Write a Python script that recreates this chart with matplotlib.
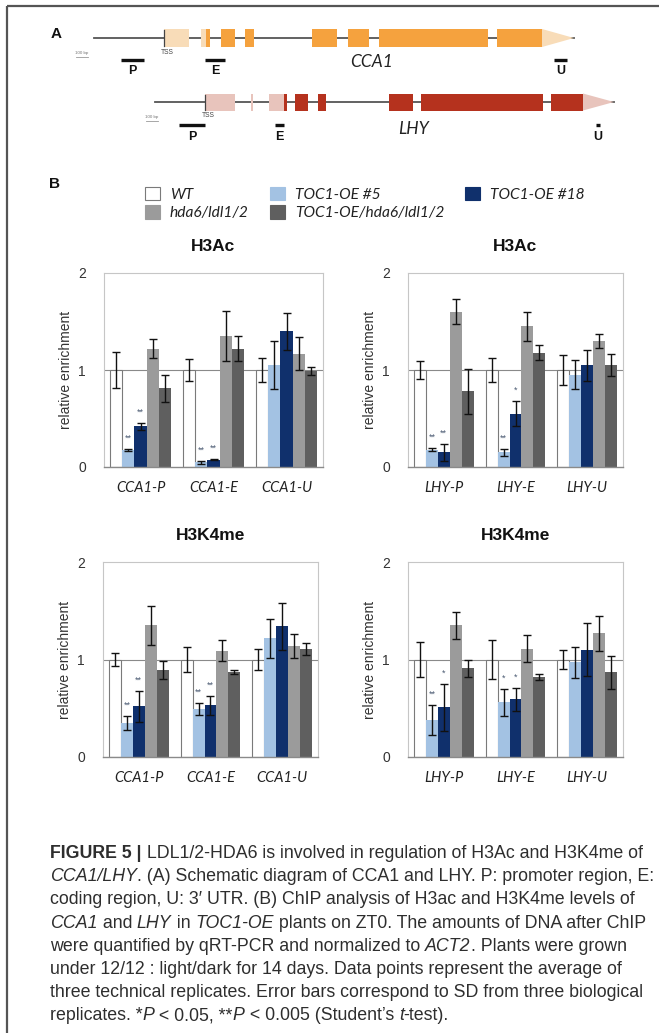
import matplotlib
matplotlib.use("Agg")
import matplotlib.pyplot as plt
import numpy as np
from matplotlib.patches import Rectangle, Polygon, Patch
from matplotlib.font_manager import FontProperties

W, H = 659, 1033
plt.rcParams['font.family'] = ['Liberation Sans', 'DejaVu Sans']

# ---------------- data ----------------
genotypes = ['WT', 'TOC1-OE #5', 'TOC1-OE #18', 'hda6/ldl1/2', 'TOC1-OE/hda6/ldl1/2']
geno_colors = ['#ffffff', '#a3c2e3', '#10306c', '#9b9b9b', '#5f5f5f']
geno_edges = ['#7a7a7a', 'none', 'none', 'none', 'none']

regions_cca1 = ['CCA1-P', 'CCA1-E', 'CCA1-U']
regions_lhy = ['LHY-P', 'LHY-E', 'LHY-U']

# rows = genotypes, columns = regions
h3ac_cca1 = [[1.00, 1.00, 1.00], [0.18, 0.05, 1.05], [0.42, 0.075, 1.40], [1.22, 1.35, 1.17], [0.81, 1.22, 0.99]]
h3ac_cca1_err = [[0.19, 0.11, 0.12], [0.01, 0.015, 0.25], [0.035, 0.005, 0.19], [0.10, 0.26, 0.17], [0.14, 0.13, 0.04]]
h3ac_cca1_sig = [['', '', ''], ['**', '**', ''], ['**', '**', ''], ['', '', ''], ['', '', '']]

h3ac_lhy = [[1.00, 1.00, 1.00], [0.18, 0.15, 0.95], [0.15, 0.55, 1.05], [1.60, 1.45, 1.30], [0.78, 1.18, 1.05]]
h3ac_lhy_err = [[0.09, 0.12, 0.15], [0.02, 0.04, 0.15], [0.09, 0.13, 0.16], [0.13, 0.15, 0.07], [0.23, 0.08, 0.11]]
h3ac_lhy_sig = [['', '', ''], ['**', '**', ''], ['**', '*', ''], ['', '', ''], ['', '', '']]

h3k4_cca1 = [[1.00, 1.00, 1.00], [0.35, 0.49, 1.22], [0.52, 0.53, 1.34], [1.35, 1.09, 1.14], [0.89, 0.87, 1.11]]
h3k4_cca1_err = [[0.07, 0.13, 0.11], [0.07, 0.06, 0.20], [0.16, 0.10, 0.24], [0.20, 0.11, 0.12], [0.09, 0.02, 0.06]]
h3k4_cca1_sig = [['', '', ''], ['**', '**', ''], ['**', '**', ''], ['', '', ''], ['', '', '']]

h3k4_lhy = [[1.00, 1.00, 1.00], [0.38, 0.56, 0.97], [0.51, 0.59, 1.10], [1.35, 1.11, 1.27], [0.91, 0.82, 0.87]]
h3k4_lhy_err = [[0.18, 0.20, 0.10], [0.15, 0.14, 0.16], [0.24, 0.12, 0.27], [0.14, 0.14, 0.18], [0.09, 0.03, 0.17]]
h3k4_lhy_sig = [['', '', ''], ['**', '*', ''], ['*', '*', ''], ['', '', ''], ['', '', '']]

yticks = [0, 1, 2]

# gene schematic (schematic positions)
cca1_span = (94, 574)
cca1_utr5 = [(164, 189), (201, 206)]
cca1_exons = [(206, 210), (221, 235), (245, 254), (312, 337), (348, 369), (379, 488), (497, 542)]
cca1_utr3 = (542, 574)
cca1_tss = 164
cca1_primers = {'P': (121, 144), 'E': (205, 225), 'U': (554, 567)}

lhy_span = (155, 614)
lhy_utr5 = [(205, 235), (251, 253), (269, 285)]
lhy_exons = [(284, 287), (295, 308), (318, 326), (389, 413), (421, 543), (551, 583)]
lhy_utr3 = (583, 614)
lhy_tss = 205
lhy_primers = {'P': (179, 205), 'E': (275, 284), 'U': (596, 600)}

caption_lines = [
    [("FIGURE 5 |", 'b'), (" LDL1/2-HDA6 is involved in regulation of H3Ac and H3K4me of", 'n')],
    [("CCA1/LHY", 'i'), (". (A) Schematic diagram of CCA1 and LHY. P: promoter region, E:", 'n')],
    [("coding region, U: 3\u2032 UTR. (B) ChIP analysis of H3ac and H3K4me levels of", 'n')],
    [("CCA1", 'i'), (" and ", 'n'), ("LHY", 'i'), (" in ", 'n'), ("TOC1-OE", 'i'),
     (" plants on ZT0. The amounts of DNA after ChIP", 'n')],
    [("were quantified by qRT-PCR and normalized to ", 'n'), ("ACT2", 'i'), (". Plants were grown", 'n')],
    [("under 12/12 : light/dark for 14 days. Data points represent the average of", 'n')],
    [("three technical replicates. Error bars correspond to SD from three biological", 'n')],
    [("replicates. *", 'n'), ("P", 'i'), (" < 0.05, **", 'n'), ("P", 'i'), (" < 0.005 (Student\u2019s ", 'n'),
     ("t", 'i'), ("-test).", 'n')],
]

# ---------------- figure ----------------
fig = plt.figure(figsize=(W / 100, H / 100), dpi=100)
fig.patch.set_facecolor('white')

bg = fig.add_axes([0, 0, 1, 1], zorder=0)
bg.set_xlim(0, W)
bg.set_ylim(H, 0)
bg.axis('off')
bg.patch.set_visible(False)

# frame (top and left rule)
bg.plot([7, W], [6, 6], color='#555555', lw=1.6, solid_capstyle='butt')
bg.plot([7, 7], [6, H], color='#555555', lw=1.6, solid_capstyle='butt')

# panel letters
bg.text(56, 34, 'A', fontsize=11, fontweight='bold', ha='center', va='center', color='#111111')
bg.text(55, 184, 'B', fontsize=11, fontweight='bold', ha='center', va='center', color='#111111')


def draw_gene(yc, hh, span, utr5, exons, utr3, tss, primers, dark, pale, name, name_x, name_y,
              bar_off, lab_off):
    bg.plot(span, [yc, yc], color='#555555', lw=1.3, zorder=1)
    for a, b in utr5:
        bg.add_patch(Rectangle((a, yc - hh), b - a, 2 * hh, facecolor=pale, edgecolor='none', zorder=2))
    for a, b in exons:
        bg.add_patch(Rectangle((a, yc - hh), b - a, 2 * hh, facecolor=dark, edgecolor='none', zorder=3))
    a, b = utr3
    bg.add_patch(Polygon([(a, yc - hh), (b, yc), (a, yc + hh)], closed=True, facecolor=pale,
                         edgecolor='none', zorder=2))
    bg.plot([tss, tss], [yc - hh + 1, yc + hh - 1], color='#444444', lw=0.9, zorder=4)
    bg.text(tss + 3, yc + hh + 5, 'TSS', fontsize=4.8, ha='center', va='center', color='#444444')
    for lab, (p0, p1) in primers.items():
        bg.plot([p0, p1], [yc + bar_off, yc + bar_off], color='#111111', lw=2.4, solid_capstyle='butt')
        bg.text((p0 + p1) / 2, yc + lab_off, lab, fontsize=9, fontweight='bold', ha='center',
                va='center', color='#111111')
    bg.text(name_x, name_y, name, fontsize=12.5, style='italic', family=['Lato', 'DejaVu Sans'],
            ha='center', va='center', color='#222222')


draw_gene(38, 9, cca1_span, cca1_utr5, cca1_exons, cca1_utr3, cca1_tss, cca1_primers,
          '#f5a23e', '#f8dcb8', 'CCA1', 372, 62, 22, 33)
draw_gene(102, 8.5, lhy_span, lhy_utr5, lhy_exons, lhy_utr3, lhy_tss, lhy_primers,
          '#b5321e', '#e8c4bc', 'LHY', 414, 129, 23, 35)

# scale bars "100 bp"
for (sx, sy) in [(82, 53), (152, 117)]:
    bg.text(sx, sy, '100 bp', fontsize=3.2, ha='center', va='center', color='#777777')
    bg.plot([sx - 6, sx + 6], [sy + 4, sy + 4], color='#999999', lw=0.6)

# ---------------- bar panels ----------------
def to_fig(l, r, t, b):
    return [l / W, 1 - b / H, (r - l) / W, (b - t) / H]


panels = [
    (to_fig(104, 323, 273, 467), 'H3Ac', regions_cca1, h3ac_cca1, h3ac_cca1_err, h3ac_cca1_sig),
    (to_fig(408, 623, 273, 467), 'H3Ac', regions_lhy, h3ac_lhy, h3ac_lhy_err, h3ac_lhy_sig),
    (to_fig(103, 318, 562, 757), 'H3K4me', regions_cca1, h3k4_cca1, h3k4_cca1_err, h3k4_cca1_sig),
    (to_fig(408, 623, 562, 757), 'H3K4me', regions_lhy, h3k4_lhy, h3k4_lhy_err, h3k4_lhy_sig),
]

bw = 0.167
for rect, title, regions, vals, errs, sigs in panels:
    ax = fig.add_axes(rect, zorder=2)
    x = np.arange(len(regions))
    ax.axhline(1, color='#8a8a8a', lw=0.8, zorder=0.5)
    for gi in range(len(genotypes)):
        xs = x + (gi - 2) * bw
        ax.bar(xs, vals[gi], bw, yerr=errs[gi], color=geno_colors[gi], edgecolor=geno_edges[gi],
               linewidth=0.8 if geno_edges[gi] != 'none' else 0, zorder=2,
               error_kw=dict(ecolor='#111111', elinewidth=1.0, capsize=2.6, capthick=1.0, zorder=3))
        for ri in range(len(regions)):
            s = sigs[gi][ri]
            if s:
                ax.text(xs[ri], vals[gi][ri] + errs[gi][ri] + 0.11, s, fontsize=6.5, ha='center',
                        va='center', color='#4a5a72', zorder=4)
    ax.set_xlim(-0.5, len(regions) - 0.5)
    ax.set_ylim(0, 2)
    ax.set_yticks(yticks)
    ax.set_yticklabels([str(v) for v in yticks], fontsize=10, color='#333333')
    ax.set_xticks(x)
    ax.set_xticklabels(regions, fontsize=10.5, style='italic', family=['Lato', 'DejaVu Sans'],
                       color='#222222')
    ax.tick_params(axis='y', length=0, pad=13)
    ax.tick_params(axis='x', length=0, pad=10)
    for sp in ['left', 'top', 'right']:
        ax.spines[sp].set_color('#c6c6c6')
        ax.spines[sp].set_linewidth(0.8)
    ax.spines['bottom'].set_color('#8a8a8a')
    ax.spines['bottom'].set_linewidth(1.0)
    ax.set_title(title, fontsize=12.5, fontweight='bold', pad=16, color='#111111')
    ax.set_ylabel('relative enrichment', fontsize=10, color='#333333')
    axw = rect[2] * W
    ax.yaxis.set_label_coords(-(31 / axw), 0.5)

# ---------------- legend ----------------
handles = [Patch(facecolor=c, edgecolor=(e if e != 'none' else c), linewidth=0.8)
           for c, e in zip(geno_colors, geno_edges)]
order = [0, 3, 1, 4, 2]
leg = fig.legend([handles[i] for i in order], [genotypes[i] for i in order], ncol=3,
                 loc='upper left', bbox_to_anchor=(145 / W, 1 - 187 / H), frameon=False,
                 borderpad=0, borderaxespad=0, handlelength=0.95, handleheight=0.95,
                 handletextpad=0.65, labelspacing=0.2, columnspacing=1.35,
                 prop=dict(family=['Lato', 'DejaVu Sans'], style='italic', size=11.2))
for t in leg.get_texts():
    t.set_color('#222222')

# ---------------- caption ----------------
renderer = fig.canvas.get_renderer()
cap_family = ['Liberation Sans Narrow', 'Liberation Sans', 'DejaVu Sans']


def seg_width(text, style, size):
    fp = FontProperties(family=cap_family, size=size,
                        weight='bold' if style == 'b' else 'normal',
                        style='italic' if style == 'i' else 'normal')
    w1, _, _ = renderer.get_text_width_height_descent(text + '|', fp, ismath=False)
    w2, _, _ = renderer.get_text_width_height_descent('|', fp, ismath=False)
    return w1 - w2


base = 12.0
w_line1 = sum(seg_width(t, s, base) for t, s in caption_lines[0])
cap_size = base * 594.0 / w_line1
cap_size = min(cap_size, 13.5)

y0 = 858
dy = 23.2
for li, segs in enumerate(caption_lines):
    xpx = 50
    ypx = y0 + li * dy
    for text, style in segs:
        fig.text(xpx / W, 1 - ypx / H, text, fontsize=cap_size, family=cap_family,
                 fontweight='bold' if style == 'b' else 'normal',
                 style='italic' if style == 'i' else 'normal',
                 ha='left', va='baseline', color='#2e2e2e')
        xpx += seg_width(text, style, cap_size)

fig.savefig('out.png', dpi=100, facecolor='white')
